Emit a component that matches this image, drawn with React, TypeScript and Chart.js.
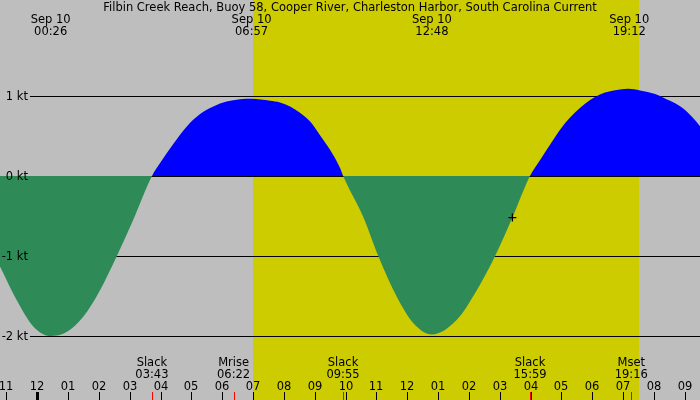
import { useEffect, useRef } from "react"
import { Chart, registerables } from "chart.js"

Chart.register(...registerables)

const title = "Filbin Creek Reach, Buoy 58, Cooper River, Charleston Harbor, South Carolina Current"

// hours after midnight, Sep 10 -> current in knots
const hours = [
  -1.21, -0.67, -0.13, 0.43, 0.95, 1.49, 2.03, 2.58, 3.11, 3.72,
  3.96, 4.41, 4.85, 5.28, 5.71, 6.14, 6.57, 6.95, 7.55, 7.87,
  8.2, 8.52, 8.85, 9.17, 9.49, 9.82, 9.92, 10.57, 11.06, 11.66,
  12.2, 12.8, 13.6, 14.25, 14.85, 15.41, 15.98, 16.31, 16.63, 16.95,
  17.28, 17.6, 17.93, 18.25, 18.58, 18.9, 19.17, 19.55, 20.04, 20.36,
  20.69, 21.01, 21.33, 21.5,
]
const knots = [
  -1.13, -1.55, -1.88, -2.0, -1.95, -1.76, -1.43, -1.0, -0.55, 0,
  0.15, 0.4, 0.62, 0.775, 0.87, 0.93, 0.96, 0.965, 0.94, 0.92,
  0.87, 0.79, 0.68, 0.51, 0.33, 0.1, 0, -0.51, -1.0, -1.51,
  -1.84, -1.98, -1.8, -1.43, -1.0, -0.52, 0, 0.2, 0.39, 0.575,
  0.73, 0.85, 0.95, 1.02, 1.06, 1.08, 1.09, 1.07, 1.025, 0.97,
  0.91, 0.825, 0.7, 0.62,
]

// "now" marker
const nowHour = [15.41]
const nowKnots = [-0.52]

// daylight
const dayStart = [7.0]
const dayEnd = [19.52]

// max / min current times at the top
const extremeDates = ["Sep 10", "Sep 10", "Sep 10", "Sep 10"]
const extremeTimes = ["00:26", "06:57", "12:48", "19:12"]

// slack & moon events at the bottom
const eventNames = ["Slack", "Mrise", "Slack", "Slack", "Mset"]
const eventTimes = ["03:43", "06:22", "09:55", "15:59", "19:16"]

// hour ticks, first one is 11 pm the day before
const firstTickHour = -1
const hourLabels = [
  "11", "12", "01", "02", "03", "04", "05", "06", "07", "08", "09", "10",
  "11", "12", "01", "02", "03", "04", "05", "06", "07", "08", "09",
]
const dayBreaks = [0]

const levelValues = [1, 0, -1, -2]
const levelLabels = ["1 kt", "0 kt", "-1 kt", "-2 kt"]

const FONT = '11.5px "DejaVu Sans"'

const toHours = (s: string) => {
  const [h, m] = s.split(":").map(Number)
  return h + m / 60
}

const tidePlugin = {
  id: "tideDecor",
  beforeDraw: (chart: any) => {
    const { ctx, chartArea, scales } = chart
    const xs = scales.x
    const ys = scales.y
    ctx.save()
    ctx.fillStyle = "#bebebe"
    ctx.fillRect(chartArea.left, chartArea.top, chartArea.width, chartArea.height)

    ctx.fillStyle = "#cccc00"
    for (let i = 0; i < dayStart.length; i++) {
      const x0 = Math.round(xs.getPixelForValue(dayStart[i]))
      const x1 = Math.round(xs.getPixelForValue(dayEnd[i]))
      ctx.fillRect(x0, chartArea.top, x1 - x0, chartArea.height)
    }

    ctx.strokeStyle = "#000"
    ctx.lineWidth = 1
    levelValues.forEach((v) => {
      const py = Math.round(ys.getPixelForValue(v)) + 0.5
      ctx.beginPath()
      ctx.moveTo(30, py)
      ctx.lineTo(chartArea.right, py)
      ctx.stroke()
    })
    ctx.restore()
  },
  afterDraw: (chart: any) => {
    const { ctx, chartArea, scales } = chart
    const xs = scales.x
    const ys = scales.y
    const bottom = chartArea.bottom
    ctx.save()
    ctx.font = FONT
    ctx.fillStyle = "#000"
    ctx.textBaseline = "alphabetic"

    // title
    ctx.textAlign = "center"
    ctx.fillText(title, 350, 11)

    // extremes
    extremeTimes.forEach((t, i) => {
      const px = xs.getPixelForValue(toHours(t))
      ctx.fillText(extremeDates[i], px, 23)
      ctx.fillText(t, px, 35)
    })

    // events
    eventTimes.forEach((t, i) => {
      const px = xs.getPixelForValue(toHours(t))
      ctx.fillText(eventNames[i], px, 366)
      ctx.fillText(t, px, 378)
    })

    // hour labels and ticks
    hourLabels.forEach((lab, i) => {
      const h = firstTickHour + i
      const px = Math.round(xs.getPixelForValue(h))
      ctx.fillStyle = "#000"
      ctx.fillText(lab, px, 390)
      if (dayBreaks.includes(h)) ctx.fillRect(px - 1, bottom - 8, 3, 8)
      else ctx.fillRect(px, bottom - 8, 1, 8)
    })

    ctx.fillStyle = "#ff0000"
    eventTimes.forEach((t) => {
      const px = Math.round(xs.getPixelForValue(toHours(t)))
      ctx.fillRect(px, bottom - 8, 1, 8)
    })

    // level labels
    ctx.fillStyle = "#000"
    ctx.textAlign = "right"
    levelValues.forEach((v, i) => {
      const py = ys.getPixelForValue(v)
      ctx.fillText(levelLabels[i], 28, py + 4)
    })
    ctx.restore()
  },
}

export default function App() {
  const chartRef = useRef<HTMLCanvasElement>(null)
  const chartInstance = useRef<Chart | null>(null)

  useEffect(() => {
    if (!chartRef.current) return
    const ctx = chartRef.current.getContext("2d")
    if (!ctx) return
    if (chartInstance.current) chartInstance.current.destroy()

    chartInstance.current = new Chart(ctx, {
      type: "line",
      data: {
        datasets: [
          {
            data: hours.map((h, i) => ({ x: h, y: knots[i] })),
            order: 1,
            borderColor: "rgba(0,0,0,0)",
            borderWidth: 0,
            pointRadius: 0,
            cubicInterpolationMode: "monotone",
            fill: { target: "origin", above: "#0000ff", below: "#2e8b57" },
          },
          {
            data: nowHour.map((h, i) => ({ x: h, y: nowKnots[i] })),
            order: 0,
            showLine: false,
            pointStyle: "cross",
            pointRadius: 4,
            pointBorderColor: "#000",
            pointBorderWidth: 1.3,
            fill: false,
          },
        ],
      },
      options: {
        animation: false,
        responsive: false,
        layout: { padding: 0, autoPadding: false },
        plugins: { legend: { display: false }, tooltip: { enabled: false } },
        scales: {
          x: { type: "linear", min: -1.2099, max: 21.495, display: false },
          y: { type: "linear", min: -2.8, max: 2.2, display: false },
        },
      } as any,
      plugins: [tidePlugin],
    })

    return () => {
      if (chartInstance.current) {
        chartInstance.current.destroy()
        chartInstance.current = null
      }
    }
  }, [])

  return (
    <div style={{ position: "fixed", left: 0, top: 0, width: 700, height: 400 }}>
      <canvas ref={chartRef} width={700} height={400} />
    </div>
  )
}
